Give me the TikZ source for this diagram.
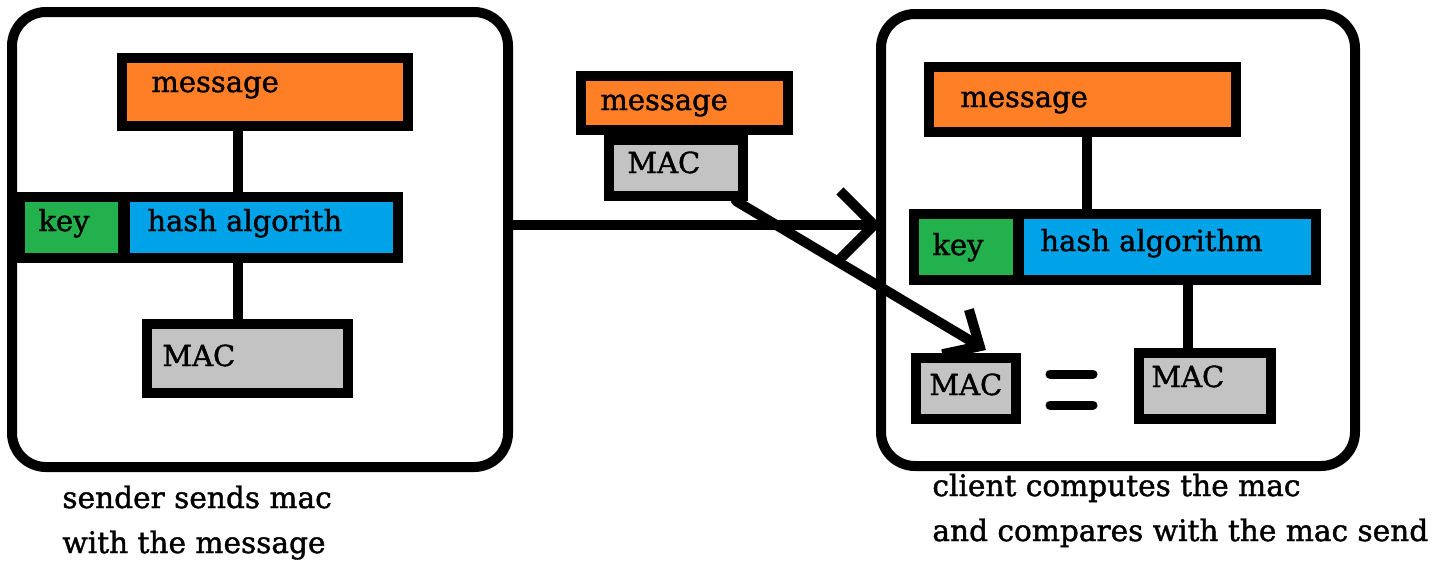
\documentclass[tikz,border=0pt]{standalone}
\usepackage{fontspec}
\setmainfont{DejaVu Serif}
\newfontfamily\pfont[FakeBold=1.3]{DejaVu Serif}
\usetikzlibrary{arrows.meta}
\definecolor{porange}{HTML}{FF7F27}
\definecolor{pgreen}{HTML}{22B14C}
\definecolor{pblue}{HTML}{00A2E8}
\definecolor{pgray}{HTML}{C3C3C3}
\begin{document}
\begin{tikzpicture}[x=0.5pt,y=-0.5pt,
  frame/.style={draw=black, line width=5pt, rounded corners=17pt, inner sep=0pt},
  box/.style={draw=black, line width=5pt, inner sep=0pt},
  msgbox/.style={box, fill=porange},
  keybox/.style={box, fill=pgreen},
  hashbox/.style={box, fill=pblue},
  macbox/.style={box, fill=pgray},
  conn/.style={line width=4.8pt},
  arr/.style={line width=5pt, line cap=round},
  eqbar/.style={line width=4.5pt, line cap=round},
  txt/.style={inner sep=0pt, anchor=base west, font=\pfont\fontsize{14.5pt}{17pt}\selectfont},
  captxt/.style={inner sep=0pt, anchor=base west, font=\pfont\fontsize{14.8pt}{17pt}\selectfont}
]
\useasboundingbox (0,0) rectangle (1441,563);

% outer frames
\node[frame, minimum width=248pt, minimum height=227.5pt] (lbox) at (260,239.5) {};
\node[frame, minimum width=237pt, minimum height=226pt] (rbox) at (1118,240) {};

% helper coordinates
\coordinate (lx) at (238,0);
\coordinate (rx1) at (1087,0);
\coordinate (rx2) at (1188,0);
\coordinate (atip) at (881,225);
\coordinate (dtip) at (986,350);

% sender side
\node[msgbox, minimum width=143pt, minimum height=34pt] (lmsg) at (265,92) {};
\node[keybox, minimum width=51.5pt, minimum height=30.5pt] (lkey) at (71.5,227.5) {};
\node[hashbox, minimum width=136.5pt, minimum height=30.5pt] (lhash) at (261.5,227.5) {};
\node[macbox, minimum width=100.5pt, minimum height=34.5pt] (lmac) at (247.5,358.5) {};
\node[txt] (lmsgT) at (151,92) {message};
\node[txt] (lkeyT) at (38,231) {key};
\node[txt] (lhashT) at (147,231) {hash algorith};
\node[txt] (lmacT) at (162,366) {MAC};
\draw[conn] (lmsg.south -| lx) -- (lhash.north -| lx);
\draw[conn] (lhash.south -| lx) -- (lmac.north -| lx);

% transmitted message
\node[msgbox, minimum width=103.5pt, minimum height=27pt] (cmsg) at (684.5,103) {};
\node[macbox, minimum width=67pt, minimum height=28pt] (cmac) at (676,168) {};
\node[txt] (cmsgT) at (600,110) {message};
\node[txt] (cmacT) at (627,173) {MAC};

% receiver side
\node[msgbox, minimum width=153.5pt, minimum height=32.5pt] (rmsg) at (1082.5,99.5) {};
\node[keybox, minimum width=52pt, minimum height=33pt] (rkey) at (966,246.5) {};
\node[hashbox, minimum width=148.5pt, minimum height=33pt] (rhash) at (1167.5,246.5) {};
\node[macbox, minimum width=50pt, minimum height=30.5pt] (rmacA) at (966,388.5) {};
\node[macbox, minimum width=66pt, minimum height=33pt] (rmacB) at (1205,386) {};
\node[txt] (rmsgT) at (960,107) {message};
\node[txt] (rkeyT) at (932,255) {key};
\node[txt] (rhashT) at (1040,251) {hash algorithm};
\node[txt] (rmacAT) at (929,395) {MAC};
\node[txt] (rmacBT) at (1151,387) {MAC};
\draw[conn] (rmsg.south -| rx1) -- (rhash.north -| rx1);
\draw[conn] (rhash.south -| rx2) -- (rmacB.north -| rx2);

% equals sign
\draw[eqbar] (1050,374) -- (1093,374);
\draw[eqbar] (1050,405) -- (1093,405);

% arrows
\draw[arr, -{Straight Barb[length=17pt, width=34pt]}] (lbox.east |- atip) -- (atip);
\draw[arr, -{Straight Barb[length=14pt, width=26pt]}] ([xshift=-6pt]cmac.south east) -- (dtip);

% captions
\node[captxt] (capL1) at (62,508) {sender sends mac};
\node[captxt] (capL2) at (62,553) {with the message};
\node[captxt] (capR1) at (932,496) {client computes the mac};
\node[captxt] (capR2) at (932,541) {and compares with the mac send};
\end{tikzpicture}
\end{document}
